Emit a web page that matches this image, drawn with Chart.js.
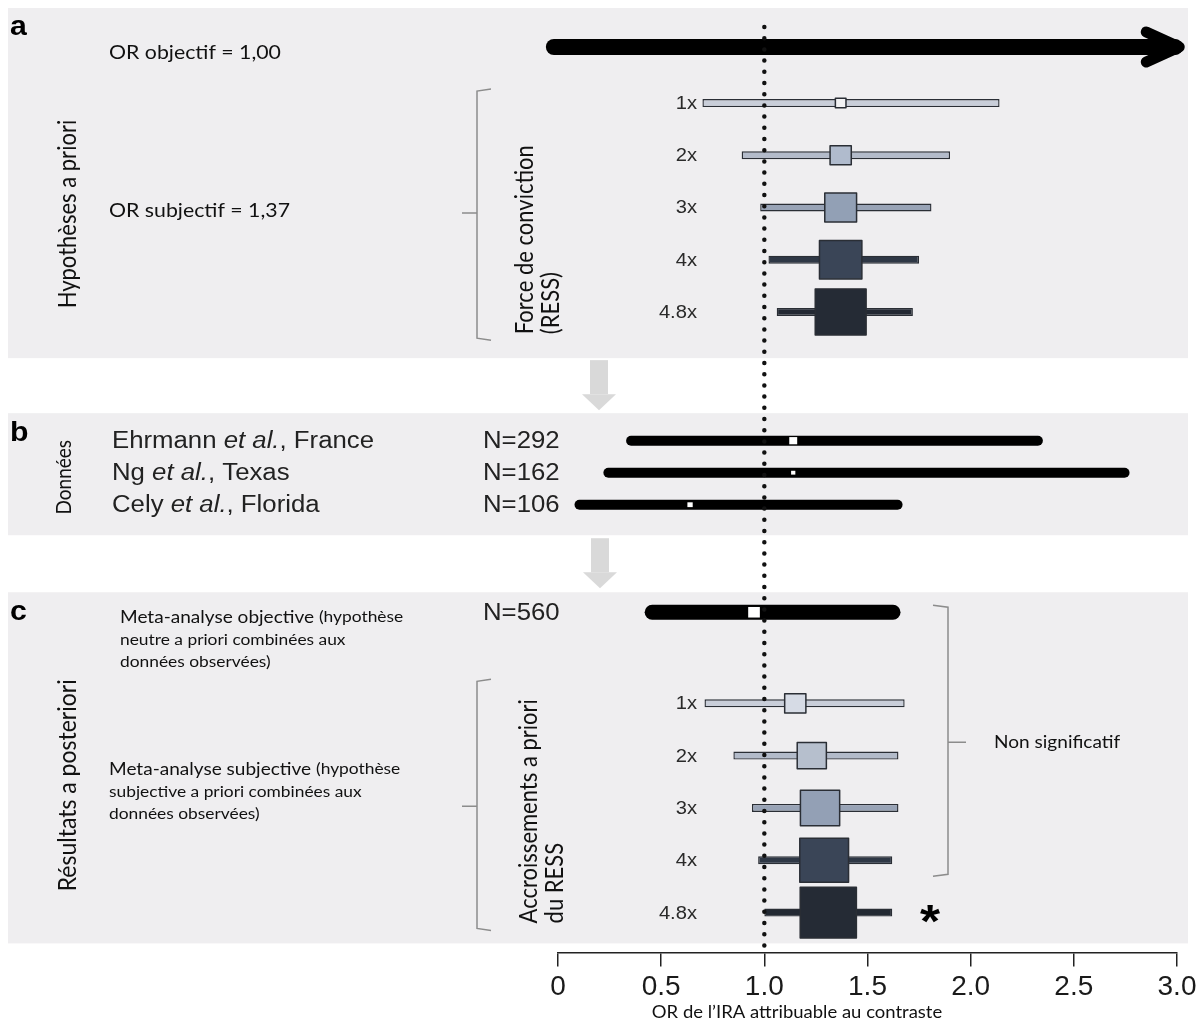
<!DOCTYPE html>
<html lang="fr">
<head>
<meta charset="utf-8">
<title>OR de l'IRA attribuable au contraste</title>
<script src="https://cdn.jsdelivr.net/npm/chart.js@4.4.1/dist/chart.umd.min.js"></script>
<style>
    html, body { margin: 0; padding: 0; background: #fff; }
    .chart-container { position: relative; width: 1204px; height: 1026px; }
</style>
</head>
<body>
<div class="chart-container"><canvas id="forestChart"></canvas></div>
<script>
// ---- data (odds ratios) ----
const strengthLabels = ['1x', '2x', '3x', '4x', '4.8x'];
const priorStrength = [1, 2, 3, 4, 4.8];
const priorOR = [1.37, 1.37, 1.37, 1.37, 1.37];
const priorLow = [0.70, 0.89, 0.98, 1.02, 1.06];
const priorHigh = [2.14, 1.90, 1.81, 1.75, 1.72];

const studyAuthors = ['Ehrmann', 'Ng', 'Cely'];
const studyPlaces = ['France', 'Texas', 'Florida'];
const studyN = [292, 162, 106];
const studyOR = [1.14, 1.14, 0.64];
const studyLow = [0.33, 0.22, 0.08];
const studyHigh = [2.35, 2.77, 1.67];
const studyWeight = [0.75, 0.4, 0.5];

const pooledN = 560;
const pooledOR = 0.95;
const pooledLow = 0.42;
const pooledHigh = 1.66;
const pooledWeight = 1.1;

const postOR = [1.15, 1.23, 1.27, 1.29, 1.31];
const postLow = [0.71, 0.85, 0.94, 0.97, 1.00];
const postHigh = [1.68, 1.65, 1.65, 1.62, 1.62];
const postWeight = [2.0, 2.75, 3.7, 4.6, 5.3];
const postSignificant = [false, false, false, false, true];

const xTicks = [0, 0.5, 1.0, 1.5, 2.0, 2.5, 3.0];
const nullOR = 1.0;

// ---- layout: y values are figure pixels, the y scale runs top-down ----
const Y_MAX = 952;
const panels = [
    { letter: 'a', top: 8, bottom: 358 },
    { letter: 'b', top: 413, bottom: 535 },
    { letter: 'c', top: 592, bottom: 943 }
];
const arrowRow = 47;
const arrowStart = -0.02;
const arrowTip = 3.04;
const priorRows = strengthLabels.map((_, i) => 103 + i * 52.2);
const studyRows = studyAuthors.map((_, i) => 440.5 + i * 32);
const pooledRow = 612;
const postRows = strengthLabels.map((_, i) => 703 + i * 52.3);
const BOX_W = 10.6, BOX_H = 9.6;  // px per unit of weight
const SX = 1.12;                  // the source figure is stretched horizontally

const barShade = ['#c9ced9', '#b3bbca', '#98a3b6', '#2e3745', '#232933'];
const priorBoxShade = ['#f2f2f4', '#b0bbcd', '#92a0b5', '#3a4557', '#252b35'];
const postBoxShade = ['#d6dbe5', '#b6bfcd', '#93a0b5', '#3a4557', '#252b35'];
const edge = '#2a2e35';
const panelFill = '#efeef0';

const CAL = 'Lato, "Open Sans", sans-serif';
const ARIAL = '"Liberation Sans", Arial, sans-serif';

const rowBars = (rows, lo, hi) => rows.map((y, i) => ({ y: y, x: [lo[i], hi[i]] }));

// ---- drawing helpers ----
function drawText(ctx, str, x, y, font, opts = {}) {
    ctx.save();
    ctx.font = font;
    ctx.fillStyle = opts.color || '#111';
    ctx.textAlign = opts.align || 'left';
    ctx.textBaseline = opts.baseline || 'middle';
    ctx.translate(x, y);
    ctx.scale(SX, 1);
    if (opts.rotate) ctx.rotate(-Math.PI / 2);
    ctx.fillText(str, 0, 0);
    ctx.restore();
}

// a line made of runs with different fonts (italic "et al.", smaller parenthesis)
function drawRuns(ctx, runs, x, y, color) {
    let cx = x;
    runs.forEach(run => {
        drawText(ctx, run.text, cx, y, run.font, { color: color });
        ctx.font = run.font;
        cx += ctx.measureText(run.text).width * SX;
    });
}

function drawBox(ctx, cx, cy, w, h, fill, stroke) {
    ctx.fillStyle = fill;
    ctx.fillRect(cx - w / 2, cy - h / 2, w, h);
    if (stroke) {
        ctx.strokeStyle = stroke;
        ctx.lineWidth = 1.5;
        ctx.strokeRect(cx - w / 2, cy - h / 2, w, h);
    }
}

function drawBracket(ctx, x, top, bottom, mid, arm, midArm) {
    ctx.save();
    ctx.strokeStyle = '#8c8c8c';
    ctx.lineWidth = 1.5;
    ctx.beginPath();
    ctx.moveTo(x + arm, top);
    ctx.lineTo(x, top + 2);
    ctx.lineTo(x, bottom - 2);
    ctx.lineTo(x + arm, bottom);
    ctx.moveTo(x, mid);
    ctx.lineTo(x + midArm, mid);
    ctx.stroke();
    ctx.restore();
}

function drawDownArrow(ctx, cx, top, bottom) {
    ctx.save();
    ctx.fillStyle = '#d9d9d9';
    ctx.fillRect(cx - 9, top, 18, bottom - top - 16);
    ctx.beginPath();
    ctx.moveTo(cx - 17, bottom - 16);
    ctx.lineTo(cx + 17, bottom - 16);
    ctx.lineTo(cx, bottom);
    ctx.closePath();
    ctx.fill();
    ctx.restore();
}

const figurePlugin = {
    id: 'figurePlugin',
    beforeDraw(chart) {
        const { ctx, scales: { y } } = chart;
        ctx.save();
        ctx.fillStyle = '#fff';
        ctx.fillRect(0, 0, chart.width, chart.height);
        ctx.fillStyle = panelFill;
        panels.forEach(p => {
            const top = y.getPixelForValue(p.top);
            const bottom = y.getPixelForValue(p.bottom);
            ctx.fillRect(8, top, 1180, bottom - top);
        });
        ctx.restore();
        drawDownArrow(ctx, 599, y.getPixelForValue(360), y.getPixelForValue(410));
        drawDownArrow(ctx, 600, y.getPixelForValue(538), y.getPixelForValue(588));
    },
    afterDatasetsDraw(chart) {
        const { ctx, scales: { x, y } } = chart;
        ctx.save();
        // arrow head of the flat (objective) prior
        const ay = y.getPixelForValue(arrowRow);
        const tip = x.getPixelForValue(arrowTip);
        ctx.strokeStyle = '#000';
        ctx.lineWidth = 11;
        ctx.lineJoin = 'round';
        ctx.lineCap = 'round';
        ctx.beginPath();
        ctx.moveTo(tip - 39, ay - 15);
        ctx.lineTo(tip - 6, ay);
        ctx.lineTo(tip - 39, ay + 15);
        ctx.stroke();

        priorOR.forEach((v, i) => {
            drawBox(ctx, x.getPixelForValue(v), y.getPixelForValue(priorRows[i]),
                priorStrength[i] * BOX_W, priorStrength[i] * BOX_H, priorBoxShade[i], edge);
        });
        studyOR.forEach((v, i) => {
            drawBox(ctx, x.getPixelForValue(v), y.getPixelForValue(studyRows[i]),
                studyWeight[i] * BOX_W, studyWeight[i] * BOX_H, '#fff');
        });
        drawBox(ctx, x.getPixelForValue(pooledOR), y.getPixelForValue(pooledRow),
            pooledWeight * BOX_W, pooledWeight * BOX_H, '#fff');
        postOR.forEach((v, i) => {
            drawBox(ctx, x.getPixelForValue(v), y.getPixelForValue(postRows[i]),
                postWeight[i] * BOX_W, postWeight[i] * BOX_H, postBoxShade[i], edge);
        });
        ctx.restore();
    },
    afterDraw(chart) {
        const { ctx, scales: { y } } = chart;
        const py = v => y.getPixelForValue(v);

        // panel letters
        panels.forEach(p => {
            drawText(ctx, p.letter, 10, py(p.top) + 20, 'bold 27px ' + ARIAL, { color: '#000' });
        });

        // --- panel a ---
        drawText(ctx, 'OR objectif = 1,00', 109, py(arrowRow) + 6, '19px ' + CAL);
        drawText(ctx, 'OR subjectif = 1,37', 109, py(211), '19px ' + CAL);
        drawText(ctx, 'Hypothèses a priori', 68, py(214), '22px ' + CAL, { rotate: true, align: 'center' });
        drawBracket(ctx, 477, py(89), py(340), py(213), 14, -15);
        drawText(ctx, 'Force de conviction', 525, py(334), '22px ' + CAL, { rotate: true });
        drawText(ctx, '(RESS)', 551, py(334), '22px ' + CAL, { rotate: true });
        strengthLabels.forEach((lab, i) => {
            drawText(ctx, lab, 697, py(priorRows[i]) + 1, '18px ' + ARIAL, { align: 'right', color: '#2a2a2a' });
        });

        // --- panel b ---
        drawText(ctx, 'Données', 64, py(477), '19px ' + CAL, { rotate: true, align: 'center' });
        studyAuthors.forEach((name, i) => {
            const yy = py(studyRows[i]) + 1;
            drawRuns(ctx, [
                { text: name + ' ', font: '23px ' + ARIAL },
                { text: 'et al.', font: 'italic 23px ' + ARIAL },
                { text: ', ' + studyPlaces[i], font: '23px ' + ARIAL }
            ], 112, yy, '#222');
            drawText(ctx, 'N=' + studyN[i], 483, yy, '23px ' + ARIAL, { color: '#222' });
        });

        // --- panel c ---
        drawText(ctx, 'N=' + pooledN, 483, py(pooledRow) + 1, '23px ' + ARIAL, { color: '#222' });
        drawRuns(ctx, [
            { text: 'Meta-analyse objective ', font: '17px ' + CAL },
            { text: '(hypothèse', font: '15.5px ' + CAL }
        ], 120, py(617), '#111');
        drawText(ctx, 'neutre a priori combinées aux', 120, py(640), '15.5px ' + CAL);
        drawText(ctx, 'données observées)', 120, py(662), '15.5px ' + CAL);
        drawRuns(ctx, [
            { text: 'Meta-analyse subjective ', font: '17px ' + CAL },
            { text: '(hypothèse', font: '15.5px ' + CAL }
        ], 109, py(769), '#111');
        drawText(ctx, 'subjective a priori combinées aux', 109, py(792), '15.5px ' + CAL);
        drawText(ctx, 'données observées)', 109, py(814), '15.5px ' + CAL);
        drawText(ctx, 'Résultats a posteriori', 68, py(785), '23px ' + CAL, { rotate: true, align: 'center' });
        drawBracket(ctx, 477, py(679), py(930), py(806), 14, -15);
        drawText(ctx, 'Accroissements a priori', 529, py(923), '22px ' + CAL, { rotate: true });
        drawText(ctx, 'du RESS', 555, py(923), '22px ' + CAL, { rotate: true });
        strengthLabels.forEach((lab, i) => {
            drawText(ctx, lab, 697, py(postRows[i]) + 1, '18px ' + ARIAL, { align: 'right', color: '#2a2a2a' });
        });
        postSignificant.forEach((sig, i) => {
            if (sig) drawText(ctx, '*', 930, py(postRows[i]) + 12, 'bold 46px ' + ARIAL, { align: 'center', color: '#000' });
        });
        drawBracket(ctx, 948, py(605), py(876), py(742), -15, 18);
        drawText(ctx, 'Non significatif', 994, py(742), '17px ' + CAL);

        // axis title
        drawText(ctx, 'OR de l’IRA attribuable au contraste', 797, 1013, '16.5px ' + CAL, { align: 'center' });
    }
};

const datasets = [
    {
        type: 'line',
        label: 'OR = 1',
        data: [{ x: nullOR, y: 27 }, { x: nullOR, y: 947 }],
        borderColor: '#111',
        borderWidth: 4.5,
        borderDash: [0, 11.2],
        borderCapStyle: 'round',
        pointRadius: 0,
        order: 0
    },
    {
        type: 'line',
        label: 'OR objectif',
        data: [{ x: arrowStart, y: arrowRow }, { x: arrowTip - 0.05, y: arrowRow }],
        borderColor: '#000',
        borderWidth: 16,
        borderCapStyle: 'round',
        pointRadius: 0,
        clip: false,
        order: 1
    },
    {
        label: 'Hypothèses a priori',
        data: rowBars(priorRows, priorLow, priorHigh),
        backgroundColor: barShade,
        borderColor: edge,
        borderWidth: 1.4,
        borderSkipped: false,
        grouped: false,
        maxBarThickness: 8,
        order: 2
    },
    {
        label: 'Données',
        data: rowBars(studyRows, studyLow, studyHigh),
        backgroundColor: '#000',
        borderWidth: 0,
        borderRadius: 5,
        borderSkipped: false,
        grouped: false,
        maxBarThickness: 10,
        order: 2
    },
    {
        label: 'Meta-analyse objective',
        data: [{ y: pooledRow, x: [pooledLow, pooledHigh] }],
        backgroundColor: '#000',
        borderWidth: 0,
        borderRadius: 8,
        borderSkipped: false,
        grouped: false,
        maxBarThickness: 15,
        order: 2
    },
    {
        label: 'Meta-analyse subjective',
        data: rowBars(postRows, postLow, postHigh),
        backgroundColor: barShade,
        borderColor: edge,
        borderWidth: 1.4,
        borderSkipped: false,
        grouped: false,
        maxBarThickness: 8,
        order: 2
    }
];

const chart = new Chart(document.getElementById('forestChart'), {
    type: 'bar',
    data: { datasets: datasets },
    options: {
        indexAxis: 'y',
        responsive: true,
        maintainAspectRatio: false,
        animation: false,
        events: [],
        layout: { padding: { left: 558, right: 27, top: 0, bottom: 18 } },
        plugins: {
            legend: { display: false },
            tooltip: { enabled: false }
        },
        scales: {
            x: {
                type: 'linear',
                position: 'bottom',
                min: 0,
                max: 3,
                afterBuildTicks: scale => { scale.ticks = xTicks.map(v => ({ value: v })); },
                ticks: {
                    padding: 4,
                    color: '#1a1a1a',
                    font: { family: 'Liberation Sans', size: 28 },
                    callback: v => (v === 0 ? '0' : v.toFixed(1))
                },
                grid: { drawOnChartArea: false, drawTicks: true, tickLength: 14, color: '#222', lineWidth: 1.5 },
                border: { display: true, color: '#222', width: 1.5 }
            },
            y: {
                type: 'linear',
                reverse: true,
                min: 0,
                max: Y_MAX,
                offset: false,
                display: false
            }
        }
    },
    plugins: [figurePlugin]
});
</script>
</body>
</html>
